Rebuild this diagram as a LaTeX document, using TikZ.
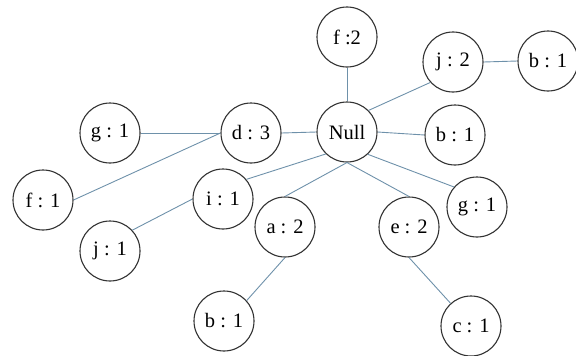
\documentclass[tikz,border=0pt]{standalone}
\usepackage{fontspec}
\setmainfont{Liberation Serif}
\definecolor{edgec}{RGB}{110,145,170}
\definecolor{circc}{RGB}{50,50,50}
\begin{document}
\begin{tikzpicture}[x=1pt,y=-1pt,
  nd/.style={circle,draw=circc,line width=1.1pt,fill=white,minimum size=60pt,inner sep=0pt,font=\fontsize{20.5}{20.5}\selectfont},
  ed/.style={draw=edgec,line width=0.9pt}]
\useasboundingbox (0,0) rectangle (576,356);
\node[nd] (null) at (347,132) {Null};
\node[nd] (f2) at (347,37) {f :2};
\node[nd] (j2) at (453,62) {j : 2};
\node[nd] (b1a) at (548,61) {b : 1};
\node[nd] (b1b) at (455,135) {b : 1};
\node[nd] (g1r) at (477,207) {g : 1};
\node[nd] (e2) at (409,227) {e : 2};
\node[nd] (c1) at (471,326) {c : 1};
\node[nd] (a2) at (285,227) {a : 2};
\node[nd] (b1c) at (224,321) {b : 1};
\node[nd] (i1) at (223,199) {i : 1};
\node[nd] (j1) at (110,251) {j : 1};
\node[nd] (d3) at (251,133) {d : 3};
\node[nd] (g1l) at (110,133) {g : 1};
\node[nd] (f1) at (43,200) {f : 1};
\draw[ed] (null.north) -- (f2.south);
\draw[ed] (null.45) -- (j2.222);
\draw[ed] (j2.east) -- (b1a.west);
\draw[ed] (null.east) -- (b1b.west);
\draw[ed] (null.-47) -- (g1r.139);
\draw[ed] (null.south) -- (e2.north);
\draw[ed] (e2.south) -- (c1.132);
\draw[ed] (null.south) -- (a2.north);
\draw[ed] (a2.south) -- (b1c.42);
\draw[ed] (null.226) -- (i1.40);
\draw[ed] (i1.west) -- (j1.43);
\draw[ed] (null.west) -- (d3.east);
\draw[ed] (d3.west) -- (g1l.east);
\draw[ed] (d3.west) -- (f1.east);
\end{tikzpicture}
\end{document}
